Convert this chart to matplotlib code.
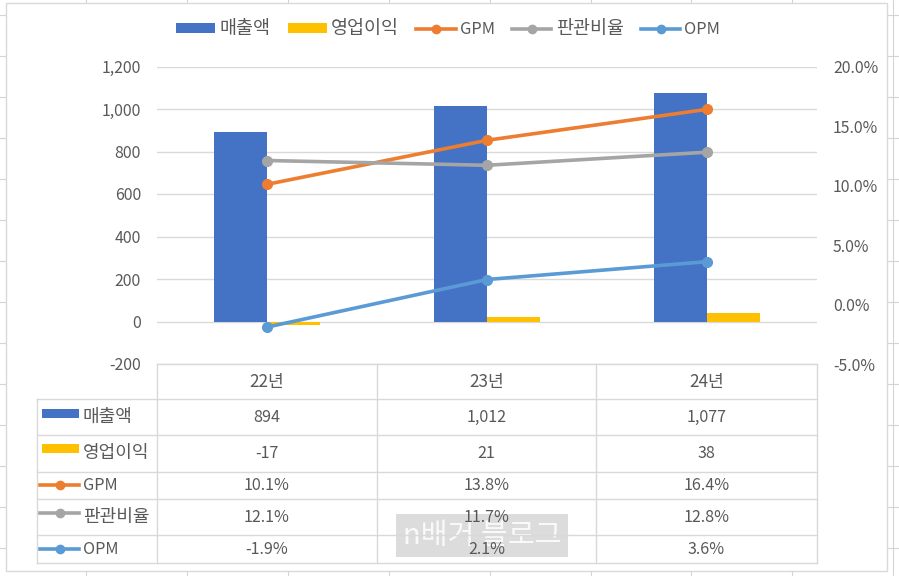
import matplotlib
matplotlib.use("Agg")
import matplotlib.pyplot as plt
from matplotlib.patches import Rectangle, Patch
from matplotlib.lines import Line2D
from matplotlib.ticker import FuncFormatter, MultipleLocator

plt.rcParams['font.family'] = ['Noto Sans CJK KR', 'DejaVu Sans']

# ---------------- data ----------------
categories = ['22년', '23년', '24년']
sales = [894, 1012, 1077]            # 매출액
op_income = [-17, 21, 38]            # 영업이익
gpm = [10.1, 13.8, 16.4]             # GPM (%)
sga = [12.1, 11.7, 12.8]             # 판관비율 (%)
opm = [-1.9, 2.1, 3.6]               # OPM (%)
series_names = ['매출액', '영업이익', 'GPM', '판관비율', 'OPM']

C_BLUE = '#4472C4'
C_GOLD = '#FFC000'
C_ORANGE = '#ED7D31'
C_GRAY = '#A5A5A5'
C_LBLUE = '#5B9BD5'
TXT = '#595959'
GRID = '#D9D9D9'

def is_korean(s):
    return any('\uac00' <= ch <= '\ud7a3' for ch in s)

def label_size(s):
    return 13 if is_korean(s) else 11.7

W, H = 899, 576
fig = plt.figure(figsize=(W / 100, H / 100), dpi=100)

def fx(x):
    return x / W

def fy(y):
    return 1 - y / H

# ---------------- background (spreadsheet + chart frame) ----------------
bg = fig.add_axes([0, 0, 1, 1], zorder=0)
bg.set_xlim(0, W)
bg.set_ylim(H, 0)
bg.axis('off')
x = 86.0
while x < W:
    bg.plot([x, x], [0, H], color='#D4D4D4', lw=0.8)
    x += 100.9
y = 15.0
while y < H:
    bg.plot([0, W], [y, y], color='#D4D4D4', lw=0.8)
    y += 41.0
bg.add_patch(Rectangle((6, 3), 881, 568, facecolor='white', edgecolor='#D9D9D9', lw=1.0, zorder=2))

# ---------------- main plot ----------------
L, R, T, B = 157, 817, 66.5, 364
ax = fig.add_axes([fx(L), fy(B), fx(R) - fx(L), fy(T) - fy(B)], zorder=3)
ax.patch.set_alpha(0)
ax2 = ax.twinx()
ax2.patch.set_alpha(0)

xs = list(range(len(categories)))
bw = 53 / 220
ax.bar([i - bw / 2 for i in xs], sales, width=bw, color=C_BLUE, zorder=3)
ax.bar([i + bw / 2 for i in xs], op_income, width=bw, color=C_GOLD, zorder=3)

ax.set_xlim(-0.5, len(categories) - 0.5)
ax.set_ylim(-200, 1200)
ax.yaxis.set_major_locator(MultipleLocator(200))
ax.yaxis.set_major_formatter(FuncFormatter(lambda v, p: f'{int(v):,}'))
ax.grid(axis='y', color=GRID, lw=1.0, zorder=0)
ax.set_axisbelow(True)
ax.set_xticks([])

for ln_vals, col in [(gpm, C_ORANGE), (sga, C_GRAY), (opm, C_LBLUE)]:
    ax2.plot(xs, ln_vals, color=col, lw=2.6, marker='o', markersize=7, zorder=4)
ax2.set_ylim(-5, 20)
ax2.yaxis.set_major_locator(MultipleLocator(5))
ax2.yaxis.set_major_formatter(FuncFormatter(lambda v, p: f'{v:.1f}%'))

for a in (ax, ax2):
    for s in a.spines.values():
        s.set_visible(False)
    a.tick_params(axis='y', length=0, labelsize=11.4, labelcolor=TXT, pad=11.5)

# ---------------- legend ----------------
handles = [
    Patch(facecolor=C_BLUE, edgecolor='none'),
    Patch(facecolor=C_GOLD, edgecolor='none'),
    Line2D([], [], color=C_ORANGE, lw=2.6, marker='o', markersize=6),
    Line2D([], [], color=C_GRAY, lw=2.6, marker='o', markersize=6),
    Line2D([], [], color=C_LBLUE, lw=2.6, marker='o', markersize=6),
]
leg = fig.legend(handles, series_names, loc='center', bbox_to_anchor=(fx(448), fy(29)),
                 ncol=5, frameon=False, fontsize=12, labelcolor=TXT,
                 handlelength=2.35, handleheight=0.55, handletextpad=0.25, columnspacing=1.05)
for t in leg.get_texts():
    t.set_fontsize(13.3 if is_korean(t.get_text()) else 11.8)

# ---------------- data table ----------------
tb = fig.add_axes([0, 0, 1, 1], zorder=4)
tb.set_xlim(0, W)
tb.set_ylim(H, 0)
tb.axis('off')
tb.patch.set_alpha(0)

col_edges = [157, 377, 596, 817]
row_edges = [364, 399, 435, 472, 499, 535, 563]
TL = 37
lc = '#D9D9D9'
tb.plot([col_edges[0], col_edges[-1]], [row_edges[0], row_edges[0]], color=lc, lw=1.0)
for yy in row_edges[1:]:
    tb.plot([TL, col_edges[-1]], [yy, yy], color=lc, lw=1.0)
for xx in col_edges:
    tb.plot([xx, xx], [row_edges[0], row_edges[-1]], color=lc, lw=1.0)
tb.plot([TL, TL], [row_edges[1], row_edges[-1]], color=lc, lw=1.0)

# watermark box
tb.add_patch(Rectangle((396, 514), 172, 43, facecolor='#DCDCDC', edgecolor='none', zorder=1))
tb.text(482, 536, 'n배거 블로그', ha='center', va='center', fontsize=21, color='white',
        alpha=0.85, zorder=2)
tb.plot([396, 568], [535, 535], color=lc, lw=1.0, zorder=2)

# header
for i, c in enumerate(categories):
    cx = (col_edges[i] + col_edges[i + 1]) / 2
    tb.text(cx, (row_edges[0] + row_edges[1]) / 2, c, ha='center', va='center',
            fontsize=12.3, color=TXT, zorder=3)

fmt_rows = [
    [f'{v:,}' for v in sales],
    [f'{v:,}' for v in op_income],
    [f'{v:.1f}%' for v in gpm],
    [f'{v:.1f}%' for v in sga],
    [f'{v:.1f}%' for v in opm],
]
label_y = [417, 453, 485, 517, 549]
for r in range(5):
    cy = (row_edges[r + 1] + row_edges[r + 2]) / 2
    for i in range(3):
        cx = (col_edges[i] + col_edges[i + 1]) / 2
        tb.text(cx, cy, fmt_rows[r][i], ha='center', va='center', fontsize=11.6,
                color=TXT, zorder=3)
    tb.text(83, label_y[r], series_names[r], ha='left', va='center',
            fontsize=label_size(series_names[r]), color=TXT, zorder=3)

# table keys
tb.add_patch(Rectangle((42, 409), 37, 8.5, facecolor=C_BLUE, edgecolor='none', zorder=3))
tb.add_patch(Rectangle((42, 444), 37, 9, facecolor=C_GOLD, edgecolor='none', zorder=3))
for yy, col in [(485, C_ORANGE), (513, C_GRAY), (549, C_LBLUE)]:
    tb.plot([40, 79], [yy, yy], color=col, lw=2.6, zorder=3)
    tb.plot([59.5], [yy], marker='o', markersize=6, color=col, zorder=3)

fig.savefig('out.png', dpi=100)
